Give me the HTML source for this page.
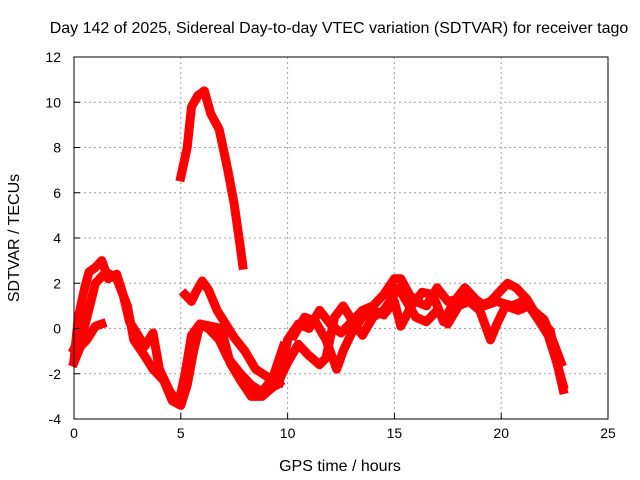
<!DOCTYPE html>
<html><head><meta charset="utf-8"><style>
body{margin:0;background:#fff}
svg{display:block;font-family:"Liberation Sans",sans-serif}
</style></head><body>
<svg id="chart" width="640" height="480">
<text x="339" y="33" font-size="16" text-anchor="middle">Day 142 of 2025, Sidereal Day-to-day VTEC variation (SDTVAR) for receiver tago</text>
<text x="340" y="471" font-size="16" text-anchor="middle">GPS time / hours</text>
<text transform="translate(19,238) rotate(-90)" font-size="16" text-anchor="middle">SDTVAR / TECUs</text>
<g id="grid"></g><g id="series"></g><g id="axes"></g>
</svg>
<script>
const xTicks=[0,5,10,15,20,25];
const yTicks=[-4,-2,0,2,4,6,8,10,12];
const spikeT=[5.0,5.3,5.5,5.8,6.1,6.4,6.8,7.2,7.5,7.8,7.9];
const spikeV=[6.7,8,9.8,10.3,10.5,9.5,8.8,7,5.5,3.5,2.8];
const trackBT=[0,0.2,0.5,0.7,1.0,1.3,1.6,2.0,2.3,2.6,3.0,3.3,3.7,4.0,4.5,4.9,5.2,5.5,5.9,6.3,6.8,7.2,7.8,8.3,8.8,9.3,9.8];
const trackBV=[-1.4,0.5,1.8,2.5,2.7,3.0,2.2,2.4,1.5,0.3,-0.3,-0.8,-0.2,-1.8,-2.8,-3.3,-2.0,-0.3,0.2,0,-0.5,-1.3,-2.0,-2.5,-2.8,-2.2,-0.8];
const trackCT=[0,0.5,1.0,1.5,2.0,2.5,2.8,3.3,3.7,4.2,4.6,5.0,5.3,5.6,5.9,6.4,6.9,7.3,7.8,8.3,8.8,9.3,9.6];
const trackCV=[-0.9,0.1,2.0,2.5,2.2,1.0,-0.5,-1.2,-1.8,-2.3,-3.2,-3.4,-2.5,-1.0,0.2,0.1,0,-1.5,-2.3,-3.0,-3.0,-2.6,-2.4];
const trackDT=[0,0.3,0.6,1.0,1.3];
const trackDV=[-1.5,-0.8,-0.5,0.1,0.2];
const trackD2T=[5.2,5.5,5.7,6.0,6.3,6.7,7.1,7.5,8.0,8.5,9.0,9.5,10.0];
const trackD2V=[1.5,1.2,1.6,2.1,1.7,0.8,0.2,-0.4,-1.0,-1.8,-2.1,-2.5,-1.5];
const trackET=[9.6,10.0,10.5,11.0,11.5,12.0,12.5,13.0,13.5,14.0,14.5,15.0,15.3,15.7,16.0,16.5,17.0,17.5,18.0,18.5,19.0,19.5,20.0,20.3,20.7,21.2,21.7,22.0,22.3,22.5,22.8,22.9];
const trackEV=[-2.4,-0.5,0.2,0.0,0.8,0.2,-0.2,0.3,0.8,1.0,1.5,2.2,2.2,1.5,1.2,1.0,1.8,1.2,1.3,1.5,1.0,1.2,1.7,2.0,1.8,1.3,0.5,0.2,-0.1,-1.0,-2.3,-2.7];
const trackFT=[10.0,10.5,11.0,11.5,11.8,12.2,12.6,13.0,13.5,14.0,14.5,15.2,15.5,16.0,16.5,17.0,17.5,18.0,18.5,19.0,19.5,19.8,20.2,20.8,21.3,21.8,22.2,22.6,22.9];
const trackFV=[-1.5,-0.7,-1.2,-1.6,-1.3,0.5,1.0,0.4,-0.3,0.5,0.8,1.8,1.3,0.5,0.3,0.8,0.2,1.0,1.2,0.8,-0.5,0.2,1.0,0.8,1.0,0.3,-0.3,-1.5,-2.5];
const trackGT=[10.3,10.8,11.3,11.8,12.3,12.6,13.0,13.5,14.0,14.5,15.0,15.3,15.8,16.3,16.8,17.3,17.8,18.3,18.8,19.2,19.8,20.5,21.0,21.5,22.0,22.4,22.8];
const trackGV=[-0.3,0.5,0.3,-0.5,-1.8,-1.0,-0.2,0.5,0.8,0.6,1.2,0.1,1.0,1.6,1.5,0.3,1.2,1.8,1.3,1.0,1.2,1.0,1.2,0.8,0.4,-0.5,-1.5];

const NS='http://www.w3.org/2000/svg';
const L=74,R=608,T=57,B=419;
const sx=t=>L+(t-0)/25*(R-L);
const sy=v=>B-(v+4)/16*(B-T);
function mk(tag,attrs,parent){const e=document.createElementNS(NS,tag);for(const k in attrs)e.setAttribute(k,attrs[k]);parent.appendChild(e);return e;}
const grid=document.getElementById('grid'),axes=document.getElementById('axes'),ser=document.getElementById('series');
xTicks.forEach(t=>{
  if(t>0&&t<25){const g=mk('line',{x1:sx(t),x2:sx(t),y1:T,y2:B,stroke:'#a0a0a0','stroke-dasharray':'2,3'},grid);
  
  }
  const tk=mk('line',{x1:sx(t),x2:sx(t),y1:B,y2:B-6,stroke:'#000'},axes);
  
  
  const tx=mk('text',{x:sx(t),y:B+19,'font-size':14,'text-anchor':'middle'},axes);tx.textContent=t;
  
  
});
yTicks.forEach(v=>{
  if(v>-4&&v<12){const g=mk('line',{x1:L,x2:R,y1:sy(v),y2:sy(v),stroke:'#a0a0a0','stroke-dasharray':'2,3'},grid);
  
  }
  const tk=mk('line',{x1:L,x2:L+6,y1:sy(v),y2:sy(v),stroke:'#000'},axes);
  
  
  const tx=mk('text',{x:L-13,y:sy(v)+5,'font-size':14,'text-anchor':'end'},axes);tx.textContent=v;
  
  
});
const frame=mk('rect',{x:L,y:T,width:R-L,height:B-T,fill:'none',stroke:'#000'},axes);


[[spikeT,spikeV,'spike-track'],[trackBT,trackBV,'track-b'],[trackCT,trackCV,'track-c'],[trackDT,trackDV,'track-d'],[trackD2T,trackD2V,'track-d2'],[trackET,trackEV,'track-e'],[trackFT,trackFV,'track-f'],[trackGT,trackGV,'track-g']].forEach(([ts,vs,name])=>{
  const pts=ts.map((t,i)=>sx(t).toFixed(1)+','+sy(vs[i]).toFixed(1)).join(' ');
  const p=mk('polyline',{points:pts,fill:'none',stroke:'#ff0000','stroke-width':9,'stroke-linejoin':'round','stroke-linecap':'square'},ser);
  
  
});
</script>
</body></html>
